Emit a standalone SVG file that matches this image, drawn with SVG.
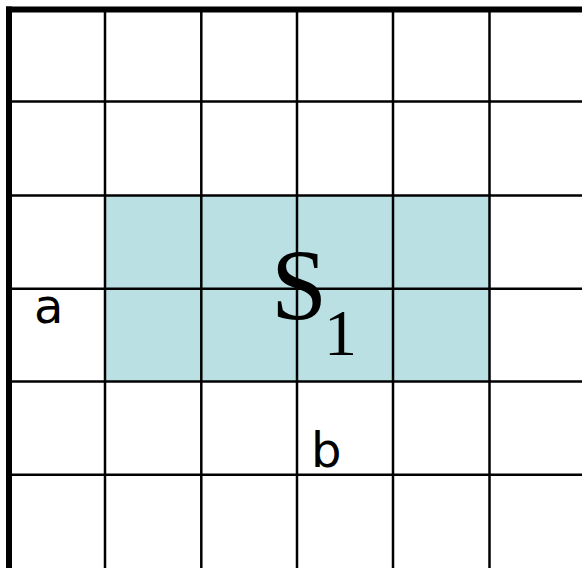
<svg xmlns="http://www.w3.org/2000/svg" width="582" height="568" viewBox="0 0 582 568">
<style>
.g{stroke:#000;stroke-width:2.5;fill:none}
.b{stroke:#000;stroke-width:6;fill:none}
.lbl{font-family:"DejaVu Sans",Verdana,sans-serif;font-size:48px;fill:#000}
.serif{font-family:"Liberation Serif","Times New Roman",serif;fill:#000}
</style>
<rect width="582" height="568" fill="#fff"/>
<g id="region-s1">
<rect x="106" y="195.5" width="383.5" height="186" fill="#BBE0E3"/>
<text class="serif" x="271" y="320" font-size="101">S</text>
<text class="serif" x="324" y="355" font-size="66">1</text>
</g>
<g id="grid">
<line class="g" x1="105" y1="9" x2="105" y2="568"/>
<line class="g" x1="201.3" y1="9" x2="201.3" y2="568"/>
<line class="g" x1="297" y1="9" x2="297" y2="568"/>
<line class="g" x1="393" y1="9" x2="393" y2="568"/>
<line class="g" x1="489.5" y1="9" x2="489.5" y2="568"/>
<line class="g" x1="9" y1="101.5" x2="582" y2="101.5"/>
<line class="g" x1="9" y1="195.5" x2="582" y2="195.5"/>
<line class="g" x1="9" y1="288.7" x2="582" y2="288.7"/>
<line class="g" x1="9" y1="381.5" x2="582" y2="381.5"/>
<line class="g" x1="9" y1="474.7" x2="582" y2="474.7"/>
<line class="b" x1="9" y1="6.5" x2="9" y2="568"/>
<line class="b" x1="6" y1="9.5" x2="582" y2="9.5"/>
</g>
<g id="label-a"><text class="lbl" x="34" y="323">a</text></g>
<g id="label-b"><text class="lbl" x="311" y="467">b</text></g>
</svg>
